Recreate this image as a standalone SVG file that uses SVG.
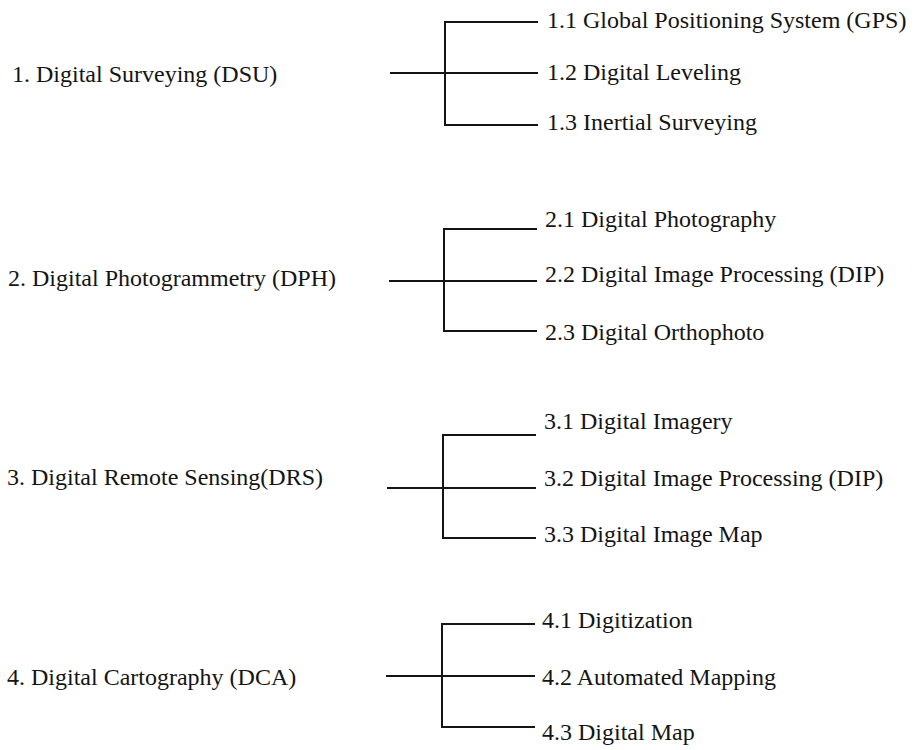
<svg xmlns="http://www.w3.org/2000/svg" width="915" height="750" viewBox="0 0 915 750">
<style>
text{font-family:"Liberation Serif","Times New Roman",serif;font-size:24px;fill:#141414}
.c line{stroke:#141414;stroke-width:2;stroke-linecap:square}
</style>
<rect width="915" height="750" fill="#ffffff"/>
<g id="n1"><text x="12" y="82">1. Digital Surveying (DSU)</text></g>
<g id="n1-1"><text x="547" y="28">1.1 Global Positioning System (GPS)</text></g>
<g id="n1-2"><text x="547" y="80">1.2 Digital Leveling</text></g>
<g id="n1-3"><text x="547" y="130">1.3 Inertial Surveying</text></g>
<g id="n2"><text x="8" y="286">2. Digital Photogrammetry (DPH)</text></g>
<g id="n2-1"><text x="545" y="227">2.1 Digital Photography</text></g>
<g id="n2-2"><text x="545" y="282">2.2 Digital Image Processing (DIP)</text></g>
<g id="n2-3"><text x="545" y="340">2.3 Digital Orthophoto</text></g>
<g id="n3"><text x="7" y="485">3. Digital Remote Sensing(DRS)</text></g>
<g id="n3-1"><text x="544" y="429">3.1 Digital Imagery</text></g>
<g id="n3-2"><text x="544" y="486">3.2 Digital Image Processing (DIP)</text></g>
<g id="n3-3"><text x="544" y="542">3.3 Digital Image Map</text></g>
<g id="n4"><text x="7" y="685">4. Digital Cartography (DCA)</text></g>
<g id="n4-1"><text x="542" y="628">4.1 Digitization</text></g>
<g id="n4-2"><text x="542" y="685">4.2 Automated Mapping</text></g>
<g id="n4-3"><text x="542" y="740">4.3 Digital Map</text></g>
<g id="connectors" class="c">
<line x1="391" y1="73" x2="445" y2="73"/><line x1="445" y1="22" x2="445" y2="125"/>
<line x1="445" y1="22" x2="537" y2="22"/><line x1="445" y1="73" x2="537" y2="73"/><line x1="445" y1="125" x2="537" y2="125"/>
<line x1="390" y1="281" x2="444" y2="281"/><line x1="444" y1="229" x2="444" y2="331"/>
<line x1="444" y1="229" x2="536" y2="229"/><line x1="444" y1="281" x2="536" y2="281"/><line x1="444" y1="331" x2="536" y2="331"/>
<line x1="388" y1="488" x2="443" y2="488"/><line x1="443" y1="435" x2="443" y2="538"/>
<line x1="443" y1="435" x2="535" y2="435"/><line x1="443" y1="488" x2="535" y2="488"/><line x1="443" y1="538" x2="535" y2="538"/>
<line x1="387" y1="676" x2="442" y2="676"/><line x1="442" y1="624" x2="442" y2="727"/>
<line x1="442" y1="624" x2="534" y2="624"/><line x1="442" y1="676" x2="534" y2="676"/><line x1="442" y1="727" x2="534" y2="727"/>
</g>
</svg>
